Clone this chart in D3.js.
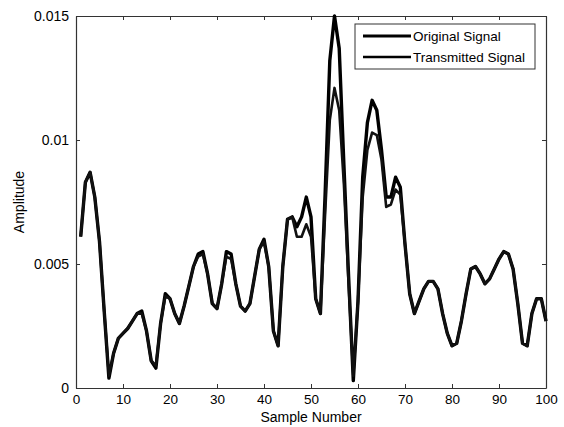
<!DOCTYPE html>
<html>
<head>
<meta charset="utf-8">
<script src="https://cdn.jsdelivr.net/npm/d3@7"></script>
<style>
  body { margin: 0; background: #fff; }
  svg text { font-family: "Liberation Sans", Arial, sans-serif; fill: #000; }
</style>
</head>
<body>
<div id="chart"></div>
<script>
// sample values (sample 1..100)
const original = [
  0.0061, 0.0083, 0.0087, 0.0077, 0.0059, 0.0031, 0.0004, 0.0014, 0.0020, 0.0022,
  0.0024, 0.0027, 0.0030, 0.0031, 0.0023, 0.0011, 0.0008, 0.0026, 0.0038, 0.0036,
  0.0030, 0.0026, 0.0033, 0.0041, 0.0049, 0.0054, 0.0055, 0.0046, 0.0034, 0.0032,
  0.0042, 0.0055, 0.0054, 0.0042, 0.0033, 0.0031, 0.0034, 0.0045, 0.0056, 0.0060,
  0.0049, 0.0023, 0.0017, 0.0049, 0.0068, 0.0069, 0.0065, 0.0069, 0.0077, 0.0069,
  0.0036, 0.0030, 0.0078, 0.0132, 0.0150, 0.0137, 0.0090, 0.0045, 0.0003, 0.0035,
  0.0085, 0.0107, 0.0116, 0.0112, 0.0096, 0.0077, 0.0077, 0.0085, 0.0081, 0.0058,
  0.0038, 0.0030, 0.0035, 0.0040, 0.0043, 0.0043, 0.0040, 0.0030, 0.0022, 0.0017,
  0.0018, 0.0027, 0.0038, 0.0048, 0.0049, 0.0046, 0.0042, 0.0044, 0.0048, 0.0052,
  0.0055, 0.0054, 0.0048, 0.0034, 0.0018, 0.0017, 0.0030, 0.0036, 0.0036, 0.0027
];
const transmitted = [
  0.0061, 0.0083, 0.0087, 0.0077, 0.0059, 0.0031, 0.0005, 0.0014, 0.0020, 0.0022,
  0.0024, 0.0027, 0.0030, 0.0030, 0.0023, 0.0011, 0.0009, 0.0026, 0.0037, 0.0036,
  0.0030, 0.0026, 0.0033, 0.0041, 0.0049, 0.0053, 0.0054, 0.0046, 0.0034, 0.0032,
  0.0042, 0.0053, 0.0052, 0.0042, 0.0033, 0.0031, 0.0034, 0.0045, 0.0056, 0.0059,
  0.0049, 0.0023, 0.0017, 0.0049, 0.0068, 0.0069, 0.0061, 0.0061, 0.0066, 0.0061,
  0.0036, 0.0030, 0.0070, 0.0108, 0.0121, 0.0112, 0.0082, 0.0042, 0.0005, 0.0035,
  0.0077, 0.0096, 0.0103, 0.0102, 0.0092, 0.0073, 0.0074, 0.0080, 0.0078, 0.0058,
  0.0038, 0.0030, 0.0035, 0.0040, 0.0043, 0.0043, 0.0040, 0.0030, 0.0022, 0.0017,
  0.0018, 0.0027, 0.0038, 0.0048, 0.0049, 0.0046, 0.0042, 0.0044, 0.0048, 0.0052,
  0.0055, 0.0054, 0.0048, 0.0034, 0.0018, 0.0017, 0.0030, 0.0036, 0.0036, 0.0027
];
const xTicks = [0, 10, 20, 30, 40, 50, 60, 70, 80, 90, 100];
const yTicks = [0, 0.005, 0.01, 0.015];
const yTickLabels = ["0", "0.005", "0.01", "0.015"];
const seriesNames = ["Original Signal", "Transmitted Signal"];

const svgWidth = 564, svgHeight = 427;
const plotLeft = 76, plotRight = 546, plotTop = 16, plotBottom = 388;

let svg = d3.select("#chart")
    .append("svg")
    .attr("width", svgWidth)
    .attr("height", svgHeight);

let x = d3.scaleLinear().domain([0, 100]).range([plotLeft, plotRight]);
let y = d3.scaleLinear().domain([0, 0.015]).range([plotBottom, plotTop]);

// axes, ticks pointing inward like matlab
svg.append("g")
    .attr("transform", `translate(0, ${plotBottom})`)
    .call(d3.axisBottom(x).tickValues(xTicks).tickSize(-4).tickPadding(6).tickSizeOuter(0))
    .call(g => g.selectAll("text").style("font-size", "13.5px"));
svg.append("g")
    .attr("transform", `translate(0, ${plotTop})`)
    .call(d3.axisTop(x).tickValues(xTicks).tickSize(-4).tickFormat("").tickSizeOuter(0));
svg.append("g")
    .attr("transform", `translate(${plotLeft}, 0)`)
    .call(d3.axisLeft(y).tickValues(yTicks).tickSize(-4).tickPadding(7).tickSizeOuter(0)
        .tickFormat((d, i) => yTickLabels[i]))
    .call(g => g.selectAll("text").style("font-size", "14px"));
svg.append("g")
    .attr("transform", `translate(${plotRight}, 0)`)
    .call(d3.axisRight(y).tickValues(yTicks).tickSize(-4).tickFormat("").tickSizeOuter(0));
svg.selectAll(".domain").attr("stroke", "#333").attr("stroke-width", 1.2);
svg.selectAll(".tick line").attr("stroke", "#333");

// lines
let line = d3.line()
    .x((d, i) => x(i + 1))
    .y(d => y(d));

svg.append("path")
    .datum(original)
    .attr("fill", "none")
    .attr("stroke", "#000")
    .attr("stroke-width", 3.4)
    .attr("stroke-linejoin", "round")
    .attr("d", line);
svg.append("path")
    .datum(transmitted)
    .attr("fill", "none")
    .attr("stroke", "#111")
    .attr("stroke-width", 2.6)
    .attr("stroke-linejoin", "round")
    .attr("d", line);

// axis titles
svg.append("text")
    .attr("x", (plotLeft + plotRight) / 2)
    .attr("y", 422)
    .attr("text-anchor", "middle")
    .style("font-size", "14px")
    .text("Sample Number");
svg.append("text")
    .attr("transform", `translate(24, ${(plotTop + plotBottom) / 2}) rotate(-90)`)
    .attr("text-anchor", "middle")
    .style("font-size", "14px")
    .text("Amplitude");

// legend
let legend = svg.append("g");
legend.append("rect")
    .attr("x", 355).attr("y", 24)
    .attr("width", 180).attr("height", 45)
    .attr("fill", "#fff")
    .attr("stroke", "#333");
legend.selectAll("line")
    .data(seriesNames)
    .enter()
    .append("line")
    .attr("x1", 363).attr("x2", 411)
    .attr("y1", (d, i) => 36 + i * 21)
    .attr("y2", (d, i) => 36 + i * 21)
    .attr("stroke", "#000")
    .attr("stroke-width", (d, i) => i == 0 ? 3 : 2.4);
legend.selectAll("text")
    .data(seriesNames)
    .enter()
    .append("text")
    .attr("x", 413)
    .attr("y", (d, i) => 36 + i * 21)
    .attr("dy", "0.35em")
    .style("font-size", "13.5px")
    .text(d => d);
</script>
</body>
</html>
